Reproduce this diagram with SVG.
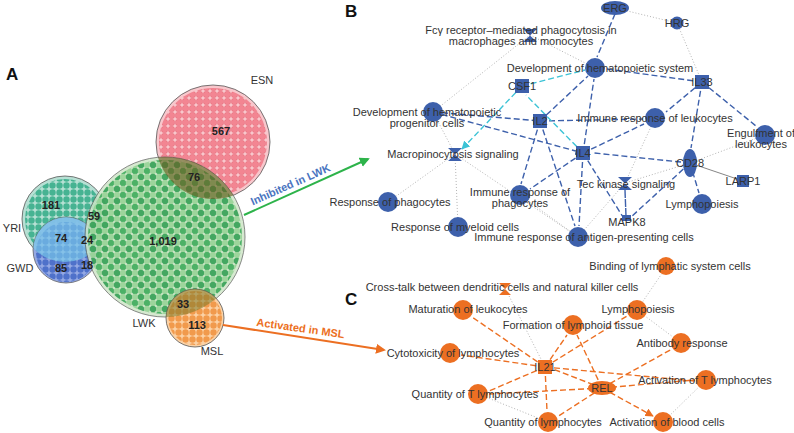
<svg xmlns="http://www.w3.org/2000/svg" width="794" height="433" viewBox="0 0 794 433">
<style>
text{font-family:"Liberation Sans",Arial,sans-serif;font-size:11px;fill:#333;text-anchor:middle}
.pl{font-size:17px;font-weight:bold;fill:#111;text-anchor:start}
.num{font-size:11px;font-weight:bold;fill:#222}
.b{fill:#3d60ab}
.o{fill:#ec6f22}
.eb{stroke:#3d60ab;stroke-width:1.4;stroke-dasharray:6 3;fill:none;marker-end:url(#ab)}
.ec{stroke:#3cc3d6;stroke-width:1.4;stroke-dasharray:6 3;fill:none;marker-end:url(#ac)}
.eo{stroke:#ec6f22;stroke-width:1.4;stroke-dasharray:6 3;fill:none;marker-end:url(#ao)}
.d{stroke:#aaa;stroke-width:0.9;stroke-dasharray:1 2;fill:none}
.ring{stroke:#555;stroke-width:0.8}
</style>
<defs>
<marker id="ab" viewBox="0 0 10 10" refX="9" refY="5" markerWidth="6" markerHeight="6" orient="auto"><path d="M0,0 L10,5 L0,10 Z" fill="#3d60ab"/></marker>
<marker id="ac" viewBox="0 0 10 10" refX="9" refY="5" markerWidth="6" markerHeight="6" orient="auto"><path d="M0,0 L10,5 L0,10 Z" fill="#3cc3d6"/></marker>
<marker id="ao" viewBox="0 0 10 10" refX="9" refY="5" markerWidth="6" markerHeight="6" orient="auto"><path d="M0,0 L10,5 L0,10 Z" fill="#ec6f22"/></marker>
<marker id="ag" viewBox="0 0 10 10" refX="8" refY="5" markerWidth="5" markerHeight="5" orient="auto"><path d="M0,0 L10,5 L0,10 Z" fill="#2db34a"/></marker>
<marker id="ao2" viewBox="0 0 10 10" refX="8" refY="5" markerWidth="5" markerHeight="5" orient="auto"><path d="M0,0 L10,5 L0,10 Z" fill="#ec6f22"/></marker>
<pattern id="pR" width="7" height="7" patternUnits="userSpaceOnUse"><circle cx="3.5" cy="3.5" r="3.2" fill="#f27e8c" stroke="#e25b6b" stroke-width="0.5"/></pattern>
<pattern id="pG" width="12" height="12" patternUnits="userSpaceOnUse"><circle cx="3" cy="3" r="3.2" fill="#2aa34c"/><circle cx="9" cy="3" r="3.2" fill="#8fd08f"/><circle cx="3" cy="9" r="3.2" fill="#8fd08f"/><circle cx="9" cy="9" r="3.2" fill="#1f9645"/></pattern>
<pattern id="pT" width="7" height="7" patternUnits="userSpaceOnUse"><circle cx="3.5" cy="3.5" r="3.2" fill="#2aa882"/></pattern>
<pattern id="pB" width="7" height="7" patternUnits="userSpaceOnUse"><circle cx="3.5" cy="3.5" r="3.2" fill="#3d63c4"/></pattern>
<pattern id="pO" width="7" height="7" patternUnits="userSpaceOnUse"><circle cx="3.5" cy="3.5" r="3.2" fill="#f19a4c"/></pattern>
<clipPath id="cLWK"><circle cx="165" cy="237" r="80"/></clipPath>
<clipPath id="cYRI"><circle cx="65" cy="219" r="43"/></clipPath>
</defs>
<rect width="794" height="433" fill="#fff"/>
<text class="pl" x="6" y="80">A</text>
<text class="pl" x="345" y="17">B</text>
<text class="pl" x="345" y="305">C</text>

<g id="venn">
<circle cx="213" cy="142" r="57" fill="#f8c7cc" class="ring"/>
<circle cx="213" cy="142" r="54" fill="url(#pR)" opacity="0.9"/>
<circle cx="65" cy="219" r="43" fill="#b7e0d4" class="ring"/>
<circle cx="65" cy="219" r="40" fill="url(#pT)" opacity="0.8"/>
<circle cx="66" cy="250" r="33" fill="#8aa0e0" class="ring" opacity="0.9"/>
<circle cx="66" cy="252" r="30" fill="url(#pB)" opacity="0.8"/>
<circle cx="66" cy="250" r="33" fill="#7fd3ee" opacity="0.6" clip-path="url(#cYRI)"/>
<circle cx="165" cy="237" r="80" fill="#cfe6c8" class="ring" opacity="0.85"/>
<circle cx="165" cy="237" r="77" fill="url(#pG)" opacity="0.8"/>
<circle cx="213" cy="142" r="57" fill="#6b5a1e" opacity="0.6" clip-path="url(#cLWK)"/>
<circle cx="195" cy="318" r="29" fill="#fbd2a6" class="ring"/>
<circle cx="195" cy="318" r="27" fill="url(#pO)"/>
<circle cx="195" cy="318" r="29" fill="#7a7a2a" opacity="0.55" clip-path="url(#cLWK)"/>
<text class="num" x="221" y="135">567</text>
<text class="num" x="194" y="181">76</text>
<text class="num" x="51" y="209">181</text>
<text class="num" x="94" y="220">59</text>
<text class="num" x="61" y="242">74</text>
<text class="num" x="87" y="244">24</text>
<text class="num" x="61" y="272">85</text>
<text class="num" x="87" y="269">18</text>
<text class="num" x="163" y="245">1,019</text>
<text class="num" x="183" y="308">33</text>
<text class="num" x="197" y="329">113</text>
<text x="262" y="84">ESN</text>
<text x="12" y="232">YRI</text>
<text x="20" y="272">GWD</text>
<text x="144" y="327">LWK</text>
<text x="212" y="355">MSL</text>
<line x1="244" y1="215" x2="368" y2="159" stroke="#2db34a" stroke-width="2" marker-end="url(#ag)"/>
<text x="292" y="188" transform="rotate(-24 292 188)" style="font-weight:bold;fill:#4a74c0;font-size:11px">Inhibited in LWK</text>
<line x1="223" y1="325" x2="384" y2="350" stroke="#ec6f22" stroke-width="2" marker-end="url(#ao2)"/>
<text x="300" y="332" transform="rotate(8 300 332)" style="font-weight:bold;fill:#ec6f22;font-size:11px">Activated in MSL</text>
</g>

<g id="edges">
<path class="d" d="M615,8 L677,23 M677,23 L702,82 M530,35 L595,68 M530,35 L433,112 M433,112 L455,154 M455,154 L388,202 M455,154 L458,227 M455,154 L578,237 M578,237 L625,183 M655,118 L625,183 M690,163 L765,135 M690,163 L625,183 M520,195 L578,237"/>
<path class="eb" d="M615,14 L597,57 M702,82 L607,69 M540,121 L588,76 M583,153 L594,79 M702,82 L666,112 M702,82 L756,126 M702,82 L691,148 M540,121 L643,119 M583,153 L644,124 M690,163 L594,153 M540,121 L521,184 M583,153 L530,189 M540,121 L575,226 M583,153 L579,226 M583,153 L623,217 M690,163 L631,217 M625,190 L626,216 M626,216 L625,191 M690,163 L699,193 M433,112 L540,121 M433,112 L583,153"/>
<path class="ec" d="M522,86 L585,70 M583,153 L526,95 M522,86 L462,149"/>
<line x1="690" y1="163" x2="743" y2="181" stroke="#666" stroke-width="0.8"/>
<path class="d" d="M667,266 L637,310 M637,310 L681,343 M505,288 L545,367 M478,394 L548,422 M706,380 L663,422"/>
<path class="eo" d="M545,367 L472,317 M545,367 L461,355 M545,367 L567,335 M545,367 L627,316 M545,367 L489,391 M545,367 L547,411 M545,367 L695,381 M602,388 L553,369 M602,388 L577,335 M602,388 L672,349 M602,388 L695,380 M602,388 L489,394 M602,388 L557,417 M602,388 L653,416"/>
</g>

<g id="nodesB">
<ellipse class="b" cx="615" cy="8" rx="14" ry="7"/><text x="615" y="12">ERG</text>
<circle class="b" cx="677" cy="23" r="6.5"/><text x="677" y="27">HRG</text>
<path class="b" d="M523,29 H537 L523,42 H537 Z"/>
<text x="521" y="34">Fcγ receptor–mediated phagocytosis in</text>
<text x="521" y="45">macrophages and monocytes</text>
<circle class="b" cx="595" cy="68" r="10"/><text x="600" y="72">Development of hematopoietic system</text>
<rect class="b" x="695" y="75" width="14" height="14"/><text x="702" y="86">IL33</text>
<rect class="b" x="515" y="79" width="14" height="14"/><text x="522" y="90">CSF1</text>
<circle class="b" cx="433" cy="112" r="10"/>
<text x="427" y="116">Development of hematopoietic</text><text x="427" y="127">progenitor cells</text>
<rect class="b" x="533" y="114" width="14" height="14"/><text x="540" y="125">IL2</text>
<circle class="b" cx="655" cy="118" r="10"/><text x="655" y="122">Immune response of leukocytes</text>
<circle class="b" cx="765" cy="135" r="10"/><text x="761" y="137">Engulfment of</text><text x="761" y="148">leukocytes</text>
<path class="b" d="M448,148 H462 L448,161 H462 Z"/><text x="453" y="158">Macropinocytosis signaling</text>
<rect class="b" x="576" y="146" width="14" height="14"/><text x="583" y="157">IL4</text>
<ellipse class="b" cx="690" cy="163" rx="7" ry="14"/><text x="690" y="167">CD28</text>
<rect class="b" x="737" y="175" width="12" height="12"/><text x="743" y="185">LARP1</text>
<path class="b" d="M618,177 H632 L618,190 H632 Z"/><text x="626" y="188">Tec kinase signaling</text>
<circle class="b" cx="520" cy="195" r="10"/><text x="520" y="196">Immune response of</text><text x="520" y="207">phagocytes</text>
<circle class="b" cx="388" cy="202" r="10"/><text x="390" y="206">Response of phagocytes</text>
<circle class="b" cx="702" cy="204" r="10"/><text x="702" y="208">Lymphopoiesis</text>
<rect class="b" x="622" y="215" width="9" height="6"/><text x="627" y="226">MAPK8</text>
<circle class="b" cx="458" cy="227" r="10"/><text x="455" y="231">Response of myeloid cells</text>
<circle class="b" cx="578" cy="237" r="10"/><text x="584" y="241">Immune response of antigen-presenting cells</text>
</g>

<g id="nodesC">
<circle class="o" cx="666" cy="266" r="9"/><text x="670" y="270">Binding of lymphatic system cells</text>
<path class="o" d="M499,283 H511 L499,295 H511 Z"/><text x="502" y="291">Cross-talk between dendritic cells and natural killer cells</text>
<circle class="o" cx="463" cy="310" r="10"/><text x="468" y="313">Maturation of leukocytes</text>
<circle class="o" cx="637" cy="310" r="10"/><text x="638" y="313">Lymphopoiesis</text>
<circle class="o" cx="573" cy="325" r="10"/><text x="573" y="329">Formation of lymphoid tissue</text>
<circle class="o" cx="681" cy="343" r="10"/><text x="682" y="347">Antibody response</text>
<circle class="o" cx="450" cy="353" r="10"/><text x="453" y="357">Cytotoxicity of lymphocytes</text>
<rect class="o" x="538" y="360" width="14" height="14"/><text x="545" y="371">IL21</text>
<circle class="o" cx="706" cy="380" r="10"/><text x="705" y="384">Activation of T lymphocytes</text>
<ellipse class="o" cx="602" cy="388" rx="14" ry="7"/><text x="602" y="392">REL</text>
<circle class="o" cx="478" cy="394" r="10"/><text x="475" y="398">Quantity of T lymphocytes</text>
<circle class="o" cx="548" cy="422" r="10"/><text x="543" y="426">Quantity of lymphocytes</text>
<circle class="o" cx="663" cy="422" r="10"/><text x="667" y="426">Activation of blood cells</text>
</g>
</svg>
